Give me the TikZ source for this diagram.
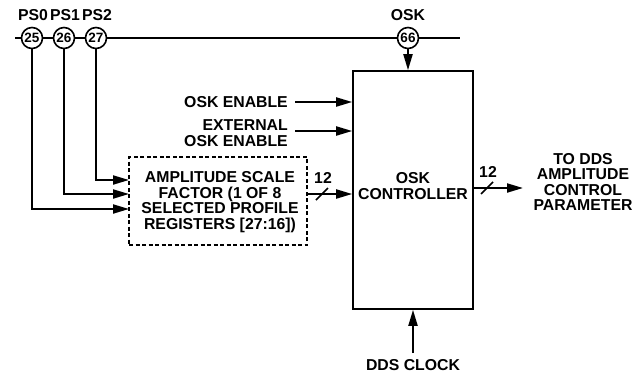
\documentclass[tikz,border=0pt]{standalone}
\usepackage{fontspec}
\setmainfont{Liberation Sans}
\usetikzlibrary{arrows.meta}
\begin{document}
\begin{tikzpicture}[x=1pt,y=-1pt,
  every node/.style={font=\fontsize{15.8}{15.5}\selectfont\bfseries},
  ln/.style={line width=2pt},
  arr/.style={ln,-{Triangle[length=16pt,width=9pt]}},
  pinc/.style={circle,draw,line width=1.6pt,minimum size=21pt,inner sep=0pt,fill=white,font=\fontsize{13.5}{14}\selectfont\bfseries},
  txt/.style={align=center,inner sep=0pt},
  slash/.style={line width=1.6pt},
]
\useasboundingbox (0,0) rectangle (634,373);
% top bus
\coordinate (lstart) at (15,38);
\coordinate (lend) at (460,38);
\node[pinc] (p25) at (32,38) {25};
\node[pinc] (p26) at (64,38) {26};
\node[pinc] (p27) at (96,38) {27};
\node[pinc] (p66) at (408,38) {66};
\draw[ln] (lstart) -- (p25) -- (p26) -- (p27) -- (p66) -- (lend);
\node[txt] (l25) at (33,15) {PS0};
\node[txt] (l26) at (65,15) {PS1};
\node[txt] (l27) at (97,15) {PS2};
\node[txt] (l66) at (408,15) {OSK};
% main box
\node[draw,line width=1.6pt,minimum width=120pt,minimum height=238pt,inner sep=0pt] (osk) at (413,190) {};
\node[txt] (osklbl) at (413,186) {OSK\\CONTROLLER};
\draw[arr] (p66) -- (p66 |- osk.north);
% dashed box
\node[draw,line width=1.6pt,dash pattern=on 4pt off 2.5pt,minimum width=178pt,minimum height=88pt,inner sep=0pt] (asf) at (218,201) {};
\node[txt] (asflbl) at (220,202) {AMPLITUDE SCALE\\FACTOR (1 OF 8\\SELECTED PROFILE\\REGISTERS [27:16])};
\coordinate (in27) at (129,180);
\coordinate (in26) at (129,194);
\coordinate (in25) at (129,209);
\draw[arr] (p27) |- (in27);
\draw[arr] (p26) |- (in26);
\draw[arr] (p25) |- (in25);
% enable inputs
\node[txt,anchor=east] (en) at (288,102) {OSK ENABLE};
\node[txt,anchor=east,align=right] (exen) at (288,133) {EXTERNAL\\OSK ENABLE};
\coordinate (enS) at (295,102);
\coordinate (exS) at (295,131);
\draw[arr] (enS) -- (enS -| osk.west);
\draw[arr] (exS) -- (exS -| osk.west);
% 12-bit bus into controller
\coordinate (busS) at (307,194);
\draw[arr] (busS) -- (busS -| osk.west);
\draw[slash] (316,200) -- (328,188);
\node[txt] (n12a) at (323,178) {12};
% output
\coordinate (outS) at (473,188);
\coordinate (outE) at (523,188);
\draw[arr] (outS) -- (outE);
\draw[slash] (481,194) -- (493,182);
\node[txt] (n12b) at (488,172) {12};
\node[txt] (outlbl) at (583,182) {TO DDS\\AMPLITUDE\\CONTROL\\PARAMETER};
% clock
\node[txt] (clk) at (413,365) {DDS CLOCK};
\coordinate (clkS) at (413,353);
\draw[arr] (clkS) -- (osk.south);
\end{tikzpicture}
\end{document}
